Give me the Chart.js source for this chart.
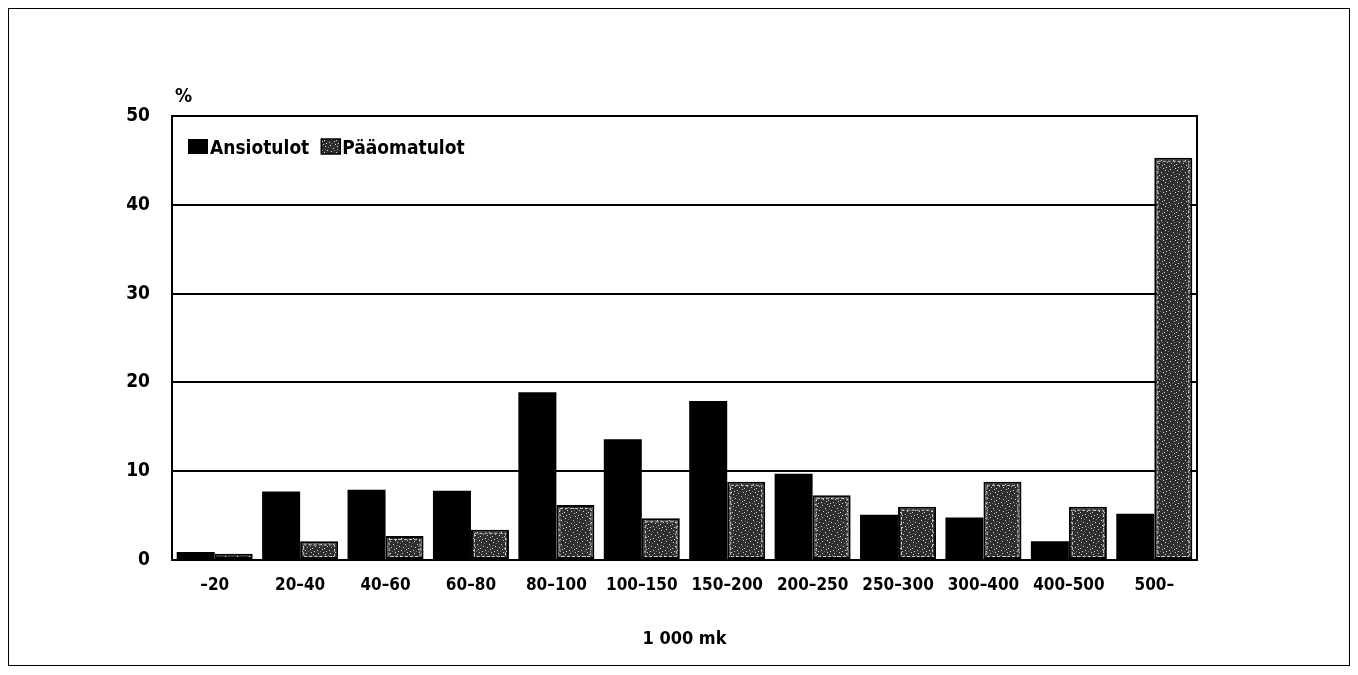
<!DOCTYPE html>
<html>
<head>
<meta charset="utf-8">
<script src="https://cdn.jsdelivr.net/npm/chart.js@4.4.1/dist/chart.umd.min.js"></script>
<style>
    html, body { margin: 0; padding: 0; background: #fff; }
    #frame {
        position: absolute; left: 8px; top: 8px;
        width: 1340px; height: 656px;
        border: 1px solid #000;
    }
    #wrap { position: absolute; left: 0; top: 0; width: 1358px; height: 675px; }
</style>
</head>
<body>
<div id="frame"></div>
<div id="wrap"><canvas id="incomeChart" width="1358" height="675"></canvas></div>
<script>
    // Tulonsaajien osuudet tuloluokittain (%)
    const categories = ['\u201320', '20\u201340', '40\u201360', '60\u201380', '80\u2013100', '100\u2013150',
        '150\u2013200', '200\u2013250', '250\u2013300', '300\u2013400', '400\u2013500', '500\u2013'];
    const ansiotulot = [0.9, 7.7, 7.9, 7.8, 18.9, 13.6, 17.9, 9.7, 5.1, 4.8, 2.1, 5.2];
    const paaomatulot = [0.7, 2.1, 2.7, 3.4, 6.2, 4.7, 8.8, 7.3, 6.0, 8.8, 6.0, 45.3];
    const yTicks = [0, 10, 20, 30, 40, 50];

    const FONT = "'DejaVu Sans Condensed', 'Liberation Sans', sans-serif";

    // speckled dark fill for the second series
    function speckle() {
        const c = document.createElement('canvas');
        c.width = 12; c.height = 12;
        const g = c.getContext('2d');
        g.fillStyle = '#2e2e2e';
        g.fillRect(0, 0, 12, 12);
        g.fillStyle = '#d8d8d8';
        [[1, 2], [6, 1], [3, 6], [9, 4], [5, 10], [0, 8], [10, 9], [7, 7], [2, 11], [11, 0]]
            .forEach(p => g.fillRect(p[0], p[1], 1, 1));
        g.fillStyle = '#777';
        [[4, 3], [8, 11], [1, 5], [10, 6]].forEach(p => g.fillRect(p[0], p[1], 1, 1));
        return g.createPattern(c, 'repeat');
    }

    const overlay = {
        id: 'overlay',
        afterDatasetsDraw(chart) {
            // thin light inner line on the speckled bars
            const { ctx } = chart;
            ctx.save();
            ctx.strokeStyle = 'rgba(255,255,255,0.75)';
            ctx.lineWidth = 1;
            ctx.setLineDash([3, 2]);
            chart.getDatasetMeta(1).data.forEach(bar => {
                const h = bar.base - bar.y;
                if (h < 6) return;
                const w = bar.width;
                ctx.strokeRect(bar.x - w / 2 + 3.5, bar.y + 3.5, w - 7, h - 6);
            });
            ctx.restore();
        },
        afterDraw(chart) {
            const { ctx, chartArea: a } = chart;
            ctx.save();
            ctx.strokeStyle = '#000';
            ctx.lineWidth = 2;
            ctx.strokeRect(a.left, a.top, a.right - a.left, a.bottom - a.top);

            ctx.font = 'bold 19px ' + FONT;
            ctx.fillStyle = '#000';
            ctx.textBaseline = 'alphabetic';
            ctx.fillText('%', a.left + 3, a.top - 14);

            // legend inside the plot
            ctx.font = 'bold 19px ' + FONT;
            const lx = a.left + 16, ly = a.top + 23;
            ctx.fillRect(lx, ly, 20, 15);
            ctx.fillText('Ansiotulot', lx + 22, ly + 15);
            const w = ctx.measureText('Ansiotulot').width;
            const px = lx + 22 + w + 12;
            ctx.fillStyle = chart.data.datasets[1].backgroundColor;
            ctx.fillRect(px, ly, 19, 15);
            ctx.strokeStyle = '#000';
            ctx.lineWidth = 1.5;
            ctx.strokeRect(px, ly, 19, 15);
            ctx.fillStyle = '#000';
            ctx.fillText('P\u00e4\u00e4omatulot', px + 21, ly + 15);
            ctx.restore();
        }
    };

    const ctx = document.getElementById('incomeChart').getContext('2d');
    new Chart(ctx, {
        type: 'bar',
        data: {
            labels: categories,
            datasets: [{
                label: 'Ansiotulot',
                data: ansiotulot,
                backgroundColor: '#000',
                borderWidth: 0
            }, {
                label: 'P\u00e4\u00e4omatulot',
                data: paaomatulot,
                backgroundColor: speckle(),
                borderColor: '#000',
                borderWidth: 2,
                borderSkipped: false
            }]
        },
        options: {
            responsive: false,
            animation: false,
            devicePixelRatio: 1,
            categoryPercentage: 0.89,
            barPercentage: 1.0,
            layout: { padding: { left: 100, top: 116, right: 161, bottom: 15 } },
            plugins: { legend: { display: false }, tooltip: { enabled: false } },
            scales: {
                x: {
                    grid: { display: false, drawTicks: false },
                    border: { display: true, color: '#000', width: 2 },
                    afterFit(scale) { scale.height = 100; },
                    ticks: {
                        color: '#000', padding: 15,
                        font: { family: FONT, size: 17, weight: 'bold' },
                        maxRotation: 0, autoSkip: false
                    },
                    title: {
                        display: true, text: '1 000 mk', color: '#000',
                        font: { family: FONT, size: 18, weight: 'bold' },
                        padding: { top: 0, bottom: 10 }
                    }
                },
                y: {
                    min: 0, max: 50,
                    afterFit(scale) { scale.width = 72; },
                    afterBuildTicks(scale) { scale.ticks = yTicks.map(v => ({ value: v })); },
                    grid: { color: '#000', lineWidth: 2, drawTicks: false },
                    border: { display: true, color: '#000', width: 2 },
                    ticks: {
                        color: '#000', padding: 22,
                        font: { family: FONT, size: 19, weight: 'bold' }
                    }
                }
            }
        },
        plugins: [overlay]
    });
</script>
</body>
</html>
